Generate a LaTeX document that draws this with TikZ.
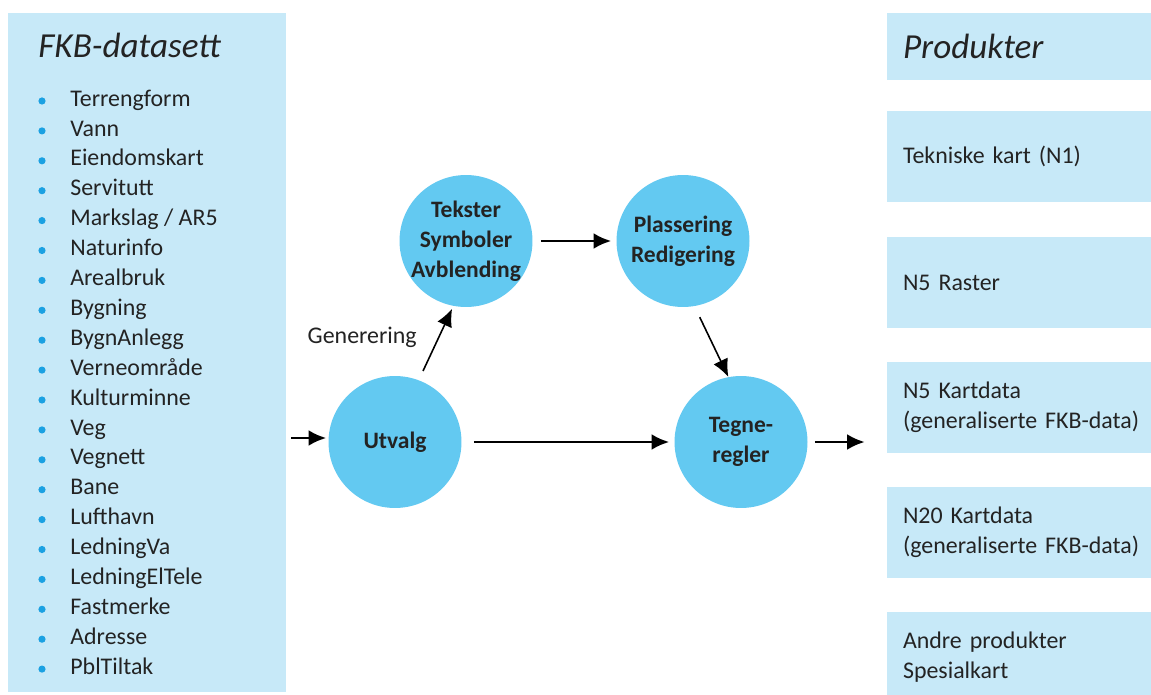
\documentclass[tikz,border=0pt]{standalone}
\usepackage{fontspec}
\setmainfont{Carlito}
\usetikzlibrary{arrows.meta,shapes.geometric,fit,positioning}
\definecolor{panelblue}{RGB}{199,233,248}
\definecolor{ballblue}{RGB}{99,201,241}
\definecolor{dotblue}{RGB}{27,161,226}
\definecolor{ink}{RGB}{35,35,35}
\tikzset{>={Latex[length=10pt,width=9pt]}}
\tikzset{
  panel/.style={fill=panelblue,inner sep=0pt},
  prod/.style={panel,minimum height=1.84cm,text width=5cm,align=left,inner xsep=0.32cm,text=ink},
  ball/.style={ellipse,fill=ballblue,minimum width=2.66cm,minimum height=2.64cm,inner xsep=-0.8cm,inner ysep=-0.3cm,align=center,font=\fontsize{13.4}{17}\selectfont\bfseries,text=ink},
  listitem/.style={anchor=mid west,inner sep=0pt,text=ink},
  bigtitle/.style={font=\fontsize{20}{24}\selectfont\itshape,text=ink},
  pil/.style={->,line width=1.4pt},
  tynnpil/.style={->,line width=0.9pt}
}

\begin{document}
\begin{tikzpicture}[x=0.02cm,y=-0.02cm,font=\fontsize{13.6}{17}\selectfont]
\useasboundingbox (0,0) rectangle (1151,695);
\fill[white] (0,0) rectangle (1151,695);
\node[panel,fit={(8,13) (286,692)}] (fkb) {};
\node[bigtitle,anchor=mid west,inner sep=0pt] (fkbtitle) at (38,53) {FKB-datasett};
\foreach \navn [count=\i] in {Terrengform,Vann,Eiendomskart,Servitutt,Markslag / AR5,Naturinfo,Arealbruk,Bygning,BygnAnlegg,Verneområde,Kulturminne,Veg,Vegnett,Bane,Lufthavn,LedningVa,LedningElTele,Fastmerke,Adresse,PblTiltak} {
  \fill[dotblue] (42,{71.1+29.9*\i}) circle (3.6);
  \node[listitem] (l\i) at (70,{72.1+29.9*\i}) {\navn};
}
\node[prod,bigtitle,minimum height=1.34cm] (produkter) at (1028,46.5) {Produkter};
\node[prod] (tekniske) at (1028,156.5) {Tekniske kart (N1)};
\node[prod] (raster) at (1028,282.5) {N5 Raster};
\node[prod] (n5data) at (1028,407.5) {N5 Kartdata\\(generaliserte FKB-data)};
\node[prod] (n20data) at (1028,532.5) {N20 Kartdata\\(generaliserte FKB-data)};
\node[prod] (andre) at (1028,657.5) {Andre produkter\\Spesialkart};
\node[ball] (tekst) at (466,241) {Tekster\\Symboler\\Avblending};
\node[ball] (plass) at (683,241) {Plassering\\Redigering};
\node[ball] (utvalg) at (395,442) {Utvalg};
\node[ball] (tegne) at (741,442) {Tegne-\\regler};
\node[anchor=mid east,inner sep=0pt,text=ink] (gen) at (417,339) {Generering};
\coordinate (inn) at (291,438);
\draw[pil,shorten >=0.04cm] (inn) -- (inn -| utvalg.west);
\draw[pil,shorten <=0.24cm,shorten >=0.1cm] (utvalg) -- (tegne);
\draw[pil,shorten <=0.14cm,shorten >=0.44cm] (tegne) -- (tegne -| n5data.west);
\draw[tynnpil,shorten <=0.2cm,shorten >=0.06cm] (utvalg.69) -- (tekst.259);
\draw[pil,shorten <=0.16cm,shorten >=0.1cm] (tekst.east) -- (tekst.east -| plass.west);
\draw[tynnpil,shorten <=0.24cm] (plass.280) -- (tegne.101);
\end{tikzpicture}
\end{document}
